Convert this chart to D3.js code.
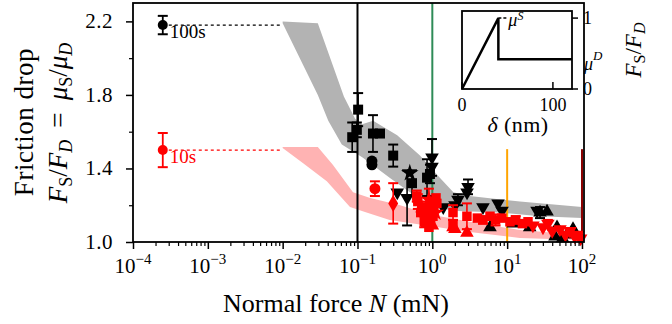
<!DOCTYPE html>
<html>
<head>
<meta charset="utf-8">
<script src="https://cdn.jsdelivr.net/npm/d3@7"></script>
<style>
  body { margin: 0; background: #fff; }
  svg { display: block; font-family: "Liberation Serif", "DejaVu Serif", serif; }
</style>
</head>
<body>
<svg id="chart" width="672" height="324"></svg>
<script>
// reference points measured at tiny load (hold time labels)
const refN = 2.5e-4;
const refLabels = ['100s', '10s'];
const refValues = [2.18, 1.50];
const refErrs = [0.05, 0.093];
const refColors = ['#000000', '#ff0000'];
const dashEndN = 0.01;

// shaded model bands [N, value]
const grayUpper = [[0.01, 2.20], [0.0295, 2.19], [0.066, 1.79], [0.093, 1.67], [0.115, 1.64], [0.162, 1.66],
  [0.339, 1.58], [0.684, 1.47], [1.26, 1.35], [1.91, 1.27], [3.16, 1.25], [14.8, 1.22], [100, 1.19]];
const grayLower = [[0.01, 2.19], [0.0295, 1.80], [0.0407, 1.66], [0.0617, 1.53], [0.117, 1.46], [0.269, 1.35],
  [0.501, 1.27], [0.933, 1.22], [1.74, 1.17], [7.94, 1.16], [27.5, 1.14], [100, 1.13]];
const pinkUpper = [[0.01, 1.517], [0.0295, 1.517], [0.0468, 1.42], [0.0871, 1.27], [0.148, 1.24], [0.372, 1.20],
  [0.933, 1.15], [3.16, 1.11], [14.8, 1.065], [100, 1.038]];
const pinkLower = [[0.01, 1.511], [0.0186, 1.43], [0.0389, 1.33], [0.0794, 1.19], [0.126, 1.163], [0.269, 1.12],
  [0.933, 1.087], [3.16, 1.054], [14.8, 1.022], [100, 1.011]];

// vertical marker lines: [N, top value, colour]
const vLines = [[0.1, 2.3, '#000000'], [1, 2.3, '#2e8b57'], [10, 1.505, '#ffa500'], [100, 1.505, '#8b0000']];

// measured points [N, value, error]
const blackSquares = [[0.102, 1.72, 0.09], [0.085, 1.57, 0.08], [0.098, 1.61, 0.04], [0.161, 1.59, 0.10],
  [0.20, 1.59, 0], [0.30, 1.47, 0.06], [0.535, 1.32, 0.07], [0.85, 1.35, 0.10], [0.93, 1.37, 0.05]];
const blackCircles = [[0.156, 1.44, 0], [0.156, 1.42, 0]];
const blackStars = [[0.50, 1.375, 0]];
const blackTriDown = [[0.99, 1.46, 0.10], [0.99, 1.41, 0], [0.46, 1.24, 0.15], [0.34, 1.27, 0], [3.0, 1.30, 0.04],
  [2.91, 1.27, 0], [2.2, 1.23, 0.03], [2.01, 1.20, 0], [1.4, 1.19, 0], [4.75, 1.19, 0], [7.55, 1.21, 0],
  [8.54, 1.17, 0], [25.1, 1.17, 0]];
const blackTriUp = [[27.5, 1.16, 0.03], [34.1, 1.165, 0], [46.4, 1.08, 0], [43.6, 1.03, 0], [63.1, 1.04, 0],
  [75.9, 1.07, 0], [55, 1.02, 0], [5.9, 1.08, 0], [12, 1.10, 0], [20, 1.08, 0]];
const redCircles = [[0.171, 1.29, 0.04]];
const redDiamonds = [[0.30, 1.21, 0.11]];
const redSquares = [[0.64, 1.22, 0.04], [0.75, 1.19, 0], [0.85, 1.17, 0.05], [0.93, 1.21, 0], [1.05, 1.19, 0.05],
  [0.80, 1.14, 0], [0.95, 1.12, 0.04], [1.12, 1.24, 0], [0.62, 1.25, 0.03], [0.70, 1.16, 0], [0.78, 1.11, 0.03],
  [0.90, 1.08, 0], [1.02, 1.14, 0], [1.15, 1.21, 0], [1.89, 1.16, 0.04], [1.89, 1.10, 0], [2.9, 1.14, 0.07],
  [4.0, 1.13, 0], [4.75, 1.12, 0.02], [5.9, 1.14, 0], [7.0, 1.12, 0.03], [8.5, 1.13, 0], [10.9, 1.11, 0],
  [13, 1.12, 0.02], [16, 1.10, 0], [19, 1.11, 0]];
const redTriUp = [[1.0, 1.09, 0], [1.89, 1.08, 0], [2.9, 1.05, 0], [0.85, 1.10, 0], [2.0, 1.07, 0]];
const redTriDown = [[22.1, 1.09, 0], [30.1, 1.08, 0], [40, 1.06, 0], [50.8, 1.07, 0], [60, 1.04, 0],
  [69.2, 1.06, 0], [80, 1.03, 0], [88.5, 1.04, 0], [96, 1.02, 0], [35, 1.10, 0.02]];
const redStars = [[0.70, 1.20, 0], [0.9, 1.23, 0.06], [1.1, 1.16, 0]];

// tick labels
const xExponents = [-4, -3, -2, -1, 0, 1, 2];
const yMajor = [1.0, 1.4, 1.8, 2.2];
const yMinor = [1.2, 1.6, 2.0];

// inset: schematic force curve
const insetDelta = [0, 40, 40, 121];
const insetForce = [0, 1, 0.42, 0.42];
const muD = 0.42;

const svg = d3.select('#chart');
const mLeft = 133, mRight = 584, mTop = 3, mBottom = 242;

const x = d3.scaleLog().domain([1e-4, Math.pow(10, 2.027)]).range([mLeft, mRight]);
const y = d3.scaleLinear().domain([1.0, 2.3]).range([mBottom, mTop]);

const plot = svg.append('g');

// bands
const band = (upper, lower) => {
  const pts = upper.concat(lower.slice().reverse());
  return d3.line().x(d => x(d[0])).y(d => y(d[1]))(pts) + 'Z';
};
plot.append('path').attr('d', band(grayUpper, grayLower)).attr('fill', '#b3b3b3');
plot.append('path').attr('d', band(pinkUpper, pinkLower)).attr('fill', '#ffb3b3');

// dashed reference lines
refValues.forEach((v, i) => {
  plot.append('line')
    .attr('x1', x(refN)).attr('x2', x(dashEndN))
    .attr('y1', y(v)).attr('y2', y(v))
    .attr('stroke', refColors[i]).attr('stroke-width', 1.3)
    .attr('stroke-dasharray', '3,3');
});

// vertical lines
vLines.forEach(d => {
  plot.append('line')
    .attr('x1', x(d[0])).attr('x2', x(d[0]))
    .attr('y1', y(d[1])).attr('y2', mBottom)
    .attr('stroke', d[2]).attr('stroke-width', 2);
});

// markers with error bars
function drawSeries(data, type, color, size, rotate) {
  const g = plot.append('g');
  data.filter(d => d[2] > 0).forEach(d => {
    const cx = x(d[0]), y0 = y(d[1] - d[2]), y1 = y(d[1] + d[2]);
    g.append('line').attr('x1', cx).attr('x2', cx).attr('y1', y0).attr('y2', y1)
      .attr('stroke', color).attr('stroke-width', 1.6);
    [y0, y1].forEach(yy => g.append('line').attr('x1', cx - 5).attr('x2', cx + 5)
      .attr('y1', yy).attr('y2', yy).attr('stroke', color).attr('stroke-width', 2));
  });
  g.selectAll('path').data(data).enter().append('path')
    .attr('d', d3.symbol().type(type).size(size))
    .attr('transform', d => `translate(${x(d[0])},${y(d[1])}) rotate(${rotate || 0})`)
    .attr('fill', color);
}

drawSeries(blackSquares, d3.symbolSquare, '#000', 100);
drawSeries(blackCircles, d3.symbolCircle, '#000', 95);
drawSeries(blackStars, d3.symbolStar, '#000', 95);
drawSeries(blackTriDown, d3.symbolTriangle, '#000', 80, 180);
drawSeries(blackTriUp, d3.symbolTriangle, '#000', 80);
drawSeries(redCircles, d3.symbolCircle, '#ff0000', 95);
drawSeries(redDiamonds, d3.symbolDiamond, '#ff0000', 85);
drawSeries(redSquares, d3.symbolSquare, '#ff0000', 90);
drawSeries(redTriUp, d3.symbolTriangle, '#ff0000', 80);
drawSeries(redTriDown, d3.symbolTriangle, '#ff0000', 80, 180);
drawSeries(redStars, d3.symbolStar, '#ff0000', 95);

// reference points + labels
refValues.forEach((v, i) => {
  const cx = x(refN), c = refColors[i];
  plot.append('line').attr('x1', cx).attr('x2', cx).attr('y1', y(v - refErrs[i])).attr('y2', y(v + refErrs[i]))
    .attr('stroke', c).attr('stroke-width', 1.8);
  [v - refErrs[i], v + refErrs[i]].forEach(e => plot.append('line')
    .attr('x1', cx - 5).attr('x2', cx + 5).attr('y1', y(e)).attr('y2', y(e))
    .attr('stroke', c).attr('stroke-width', 2));
  plot.append('circle').attr('cx', cx).attr('cy', y(v)).attr('r', 5).attr('fill', c);
  plot.append('text').attr('x', cx + 7).attr('y', y(v) + 13)
    .attr('fill', c).attr('font-size', 19).text(refLabels[i]);
});

// axes
const minors = [];
xExponents.forEach(e => { if (e < 2) for (let k = 2; k <= 9; k++) minors.push(k * Math.pow(10, e)); });

svg.append('g').attr('transform', `translate(0,${mBottom})`)
  .call(d3.axisBottom(x).tickValues(xExponents.map(e => Math.pow(10, e))).tickSize(7).tickFormat(''))
  .call(g => g.select('.domain').remove())
  .call(g => g.selectAll('line').attr('stroke-width', 1.5));
svg.append('g').attr('transform', `translate(0,${mBottom})`)
  .call(d3.axisBottom(x).tickValues(minors).tickSize(4).tickFormat(''))
  .call(g => g.select('.domain').remove())
  .call(g => g.selectAll('line').attr('stroke-width', 1.2));

xExponents.forEach(e => {
  const t = svg.append('text').attr('x', x(Math.pow(10, e))).attr('y', 273)
    .attr('text-anchor', 'middle').attr('font-size', 21);
  t.append('tspan').text('10');
  t.append('tspan').attr('dy', -9).attr('font-size', 15).text(e < 0 ? '\u2212' + (-e) : e);
});

svg.append('g').attr('transform', `translate(${mLeft},0)`)
  .call(d3.axisLeft(y).tickValues(yMajor).tickSize(7).tickFormat(''))
  .call(g => g.select('.domain').remove())
  .call(g => g.selectAll('line').attr('stroke-width', 1.5));
svg.append('g').attr('transform', `translate(${mLeft},0)`)
  .call(d3.axisLeft(y).tickValues(yMinor).tickSize(4).tickFormat(''))
  .call(g => g.select('.domain').remove())
  .call(g => g.selectAll('line').attr('stroke-width', 1.2));
yMajor.forEach(v => {
  svg.append('text').attr('x', 113).attr('y', y(v) + 7).attr('text-anchor', 'end')
    .attr('font-size', 21).attr('letter-spacing', 0.5).text(v.toFixed(1));
});

// frame
svg.append('rect').attr('x', mLeft).attr('y', mTop).attr('width', mRight - mLeft).attr('height', mBottom - mTop)
  .attr('fill', 'none').attr('stroke', '#000').attr('stroke-width', 1.8);

// axis titles
const xt = svg.append('text').attr('x', 336).attr('y', 312).attr('text-anchor', 'middle')
  .attr('font-size', 26);
xt.append('tspan').text('Normal force ');
xt.append('tspan').attr('font-style', 'italic').text('N');
xt.append('tspan').text(' (mN)');

svg.append('text').attr('transform', 'translate(33,122) rotate(-90)')
  .attr('text-anchor', 'middle').attr('font-size', 27).attr('letter-spacing', 0.5).text('Friction drop');
const yt2 = svg.append('text').attr('transform', 'translate(67,123) rotate(-90)')
  .attr('text-anchor', 'middle').attr('font-size', 27);
yt2.append('tspan').attr('font-style', 'italic').text('F');
yt2.append('tspan').attr('font-size', 18).attr('dy', 5).text('S');
yt2.append('tspan').attr('dy', -5).text('/');
yt2.append('tspan').attr('font-style', 'italic').text('F');
yt2.append('tspan').attr('font-size', 18).attr('font-style', 'italic').attr('dy', 5).text('D');
yt2.append('tspan').attr('dy', -5).text(' \u2009= \u2009');
yt2.append('tspan').attr('font-style', 'italic').text('\u03bc');
yt2.append('tspan').attr('font-size', 18).attr('dy', 5).text('S');
yt2.append('tspan').attr('dy', -5).text('/');
yt2.append('tspan').attr('font-style', 'italic').text('\u03bc');
yt2.append('tspan').attr('font-size', 18).attr('font-style', 'italic').attr('dy', 5).text('D');

// inset
const ix = d3.scaleLinear().domain([0, 121]).range([462, 572]);
const iy = d3.scaleLinear().domain([0, 1.1]).range([89, 11]);
const inset = svg.append('g');
inset.append('rect').attr('x', 462).attr('y', 11).attr('width', 110).attr('height', 78)
  .attr('fill', '#fff').attr('stroke', '#000').attr('stroke-width', 1.8);
inset.append('path')
  .attr('d', d3.line().x((d, i) => ix(insetDelta[i])).y(d => iy(d))(insetForce))
  .attr('fill', 'none').attr('stroke', '#000').attr('stroke-width', 2.5);
inset.append('line').attr('x1', ix(40)).attr('x2', ix(49)).attr('y1', iy(1)).attr('y2', iy(1))
  .attr('stroke', '#000').attr('stroke-width', 1.5).attr('stroke-dasharray', '3,2');
const muS = inset.append('text').attr('x', ix(51)).attr('y', iy(1) + 8).attr('font-size', 18);
muS.append('tspan').attr('font-style', 'italic').text('\u03bc');
muS.append('tspan').attr('dy', -6).attr('font-size', 12).attr('font-style', 'italic').text('S');

[0, 1].forEach(v => {
  inset.append('line').attr('x1', 572).attr('x2', 578).attr('y1', iy(v)).attr('y2', iy(v))
    .attr('stroke', '#000').attr('stroke-width', 1.5);
  inset.append('text').attr('x', 583).attr('y', iy(v) + 6).attr('font-size', 18).text(v);
});
const muDl = inset.append('text').attr('x', 584).attr('y', iy(muD) + 11).attr('font-size', 18);
muDl.append('tspan').attr('font-style', 'italic').text('\u03bc');
muDl.append('tspan').attr('dy', -10).attr('font-size', 13).attr('font-style', 'italic').text('D');

[0, 100].forEach(v => {
  inset.append('line').attr('x1', ix(v)).attr('x2', ix(v)).attr('y1', 89).attr('y2', 82)
    .attr('stroke', '#000').attr('stroke-width', 1.5);
  inset.append('text').attr('x', ix(v)).attr('y', 111).attr('text-anchor', 'middle')
    .attr('font-size', 18).text(v);
});
const dl = inset.append('text').attr('x', 518).attr('y', 132).attr('text-anchor', 'middle')
  .attr('font-size', 22).attr('letter-spacing', 0.4);
dl.append('tspan').attr('font-style', 'italic').text('\u03b4');
dl.append('tspan').text(' (nm)');

const ifd = inset.append('text').attr('transform', 'translate(641,50) rotate(-90)')
  .attr('text-anchor', 'middle').attr('font-size', 23);
ifd.append('tspan').attr('font-style', 'italic').text('F');
ifd.append('tspan').attr('font-size', 16).attr('dy', 4).text('S');
ifd.append('tspan').attr('dy', -4).text('/');
ifd.append('tspan').attr('font-style', 'italic').text('F');
ifd.append('tspan').attr('font-size', 16).attr('font-style', 'italic').attr('dy', 4).text('D');
</script>
</body>
</html>
